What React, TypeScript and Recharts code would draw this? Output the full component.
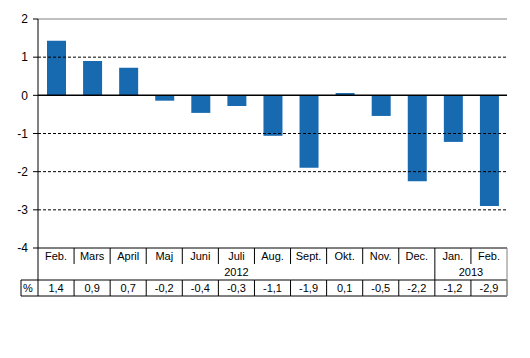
import React from "react";
import { BarChart, Bar, XAxis, YAxis, ReferenceLine } from "recharts";

const months = ["Feb.", "Mars", "April", "Maj", "Juni", "Juli", "Aug.", "Sept.", "Okt.", "Nov.", "Dec.", "Jan.", "Feb."];
const years = ["2012", "2012", "2012", "2012", "2012", "2012", "2012", "2012", "2012", "2012", "2012", "2013", "2013"];
const values = [1.43, 0.9, 0.72, -0.14, -0.46, -0.28, -1.06, -1.9, 0.06, -0.54, -2.25, -1.22, -2.9];
const tableLabels = ["1,4", "0,9", "0,7", "-0,2", "-0,4", "-0,3", "-1,1", "-1,9", "0,1", "-0,5", "-2,2", "-1,2", "-2,9"];
const yTicks = [-4, -3, -2, -1, 0, 1, 2];
const gridValues = [1, -1, -2, -3];

const data = months.map((m, i) => ({ key: i, month: m, year: years[i], value: values[i], label: tableLabels[i] }));

const W = 530;
const H = 358;
const LEFT = 38;
const RIGHT = 507;
const FONT = "'Liberation Sans', Arial, sans-serif";
const band = (RIGHT - LEFT) / months.length;

const TableTick = (props: any) => {
  const { x, y, index } = props;
  const i = index;
  const d = data[i];
  const l = x - band / 2;
  const r = x + band / 2;
  const n = data.length;
  const yearChange = i < n - 1 && years[i + 1] !== years[i];
  const groupStart = i === 0 || years[i - 1] !== years[i];
  let count = 0;
  if (groupStart) {
    for (let k = i; k < n && years[k] === years[i]; k++) count++;
  }
  const stroke = "#000";
  return (
    <g fontFamily={FONT} fontSize={11} fill="#000">
      <text x={x} y={y + 12} textAnchor="middle">{d.month}</text>
      {i < n - 1 && (
        <line x1={r} x2={r} y1={y} y2={yearChange ? y + 32 : y + 16} stroke={stroke} />
      )}
      {groupStart && (
        <text x={x + ((count - 1) / 2) * band} y={y + 28} textAnchor="middle">{d.year}</text>
      )}
      <line x1={l} x2={r} y1={y + 32} y2={y + 32} stroke={stroke} />
      <line x1={l} x2={r} y1={y + 48} y2={y + 48} stroke={stroke} />
      <line x1={r} x2={r} y1={y + 32} y2={y + 48} stroke={i === n - 1 ? "#808080" : stroke} />
      <text x={x} y={y + 44} textAnchor="middle">{d.label}</text>
      {i === 0 && (
        <g>
          <line x1={l} x2={l} y1={y} y2={y + 48} stroke={stroke} />
          <line x1={21} x2={l} y1={y + 32} y2={y + 32} stroke={stroke} />
          <line x1={21} x2={l} y1={y + 48} y2={y + 48} stroke={stroke} />
          <line x1={21} x2={21} y1={y + 32} y2={y + 48} stroke={stroke} />
          <text x={23} y={y + 44} textAnchor="start">%</text>
        </g>
      )}
      {i === n - 1 && (
        <line x1={r} x2={r} y1={y} y2={y + 48} stroke="#808080" />
      )}
    </g>
  );
};

export default function App() {
  return (
    <div style={{ position: "absolute", left: 0, top: 0, width: W, height: H, background: "#fff" }}>
      <BarChart
        width={W}
        height={H}
        data={data}
        margin={{ top: 19, right: W - RIGHT, bottom: 60, left: 0 }}
        barCategoryGap={0}
      >
        {gridValues.map((v) => (
          <ReferenceLine key={v} y={v} stroke="#000" strokeDasharray="3 2" ifOverflow="extendDomain" />
        ))}
        <ReferenceLine y={2} stroke="#808080" />
        <XAxis
          dataKey="key"
          height={50}
          axisLine={{ stroke: "#000" }}
          tickLine={false}
          tickSize={0}
          tickMargin={0}
          interval={0}
          tick={<TableTick />}
        />
        <YAxis
          domain={[-4, 2]}
          ticks={yTicks}
          width={LEFT}
          axisLine={{ stroke: "#000" }}
          tickLine={{ stroke: "#000" }}
          tickSize={5}
          tickMargin={5}
          tick={{ fill: "#000", fontSize: 12, fontFamily: FONT }}
          allowDataOverflow
        />
        <YAxis
          yAxisId="r"
          orientation="right"
          domain={[-4, 2]}
          width={0}
          tick={false}
          tickLine={false}
          axisLine={{ stroke: "#808080" }}
        />
        <Bar dataKey="value" fill="#1769b0" barSize={19} isAnimationActive={false} />
        <ReferenceLine y={0} stroke="#000" strokeWidth={1.5} />
      </BarChart>
    </div>
  );
}
